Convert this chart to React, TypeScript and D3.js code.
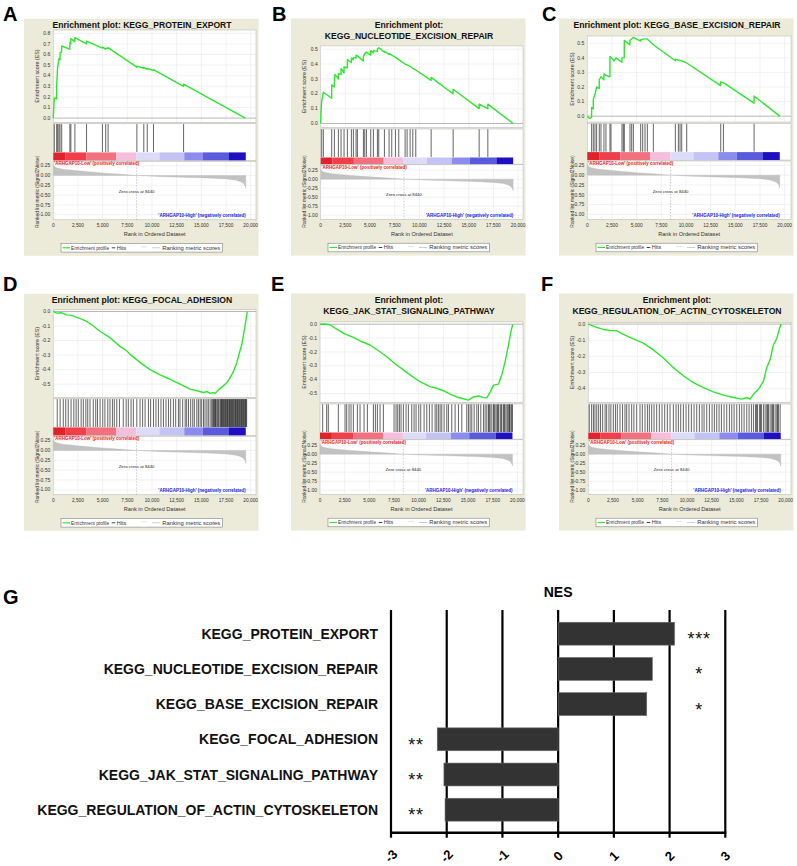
import React from 'react';
import * as d3 from 'd3';

type Pt = [number, number];

// ---------- shared GSEA data ----------
const rankTicks = [0, 2500, 5000, 7500, 10000, 12500, 15000, 17500, 20000];
const metricTicks = [0.25, 0, -0.25, -0.5, -0.75, -1];
const zeroCross = 8440;
const listEnd = 19500;
const metricCurve: Pt[] = [
  [0, 0.28], [100, 0.23], [400, 0.19], [1000, 0.16], [2500, 0.12], [5000, 0.065], [7000, 0.03],
  [8440, 0], [10500, -0.025], [13000, -0.045], [15500, -0.065], [17500, -0.09], [18500, -0.12],
  [19000, -0.16], [19300, -0.21], [19450, -0.27], [19500, -0.33],
];
const colorBands: [number, number, string][] = [
  [0, 1200, '#E0222C'], [1200, 3360, '#EE3F4A'], [3360, 6380, '#F2717F'], [6380, 8400, '#F5BEDC'],
  [8400, 10750, '#DCDCF8'], [10750, 13270, '#C4C4F4'], [13270, 15120, '#8C8CEE'],
  [15120, 17800, '#5A5ADC'], [17800, 19500, '#1E10C0'],
];

// ---------- panel A ----------
const titleA = ['Enrichment plot: KEGG_PROTEIN_EXPORT'];
const esTicksA = [0, 0.1, 0.2, 0.3, 0.4, 0.5, 0.6, 0.7, 0.8];
const esA: Pt[] = [
  [0, 0], [100, 0.19], [330, 0.18], [340, 0.3], [440, 0.49], [450, 0.48], [570, 0.56], [680, 0.55],
  [690, 0.62], [840, 0.62], [850, 0.68], [1670, 0.65], [1680, 0.71], [1770, 0.7], [1780, 0.75],
  [2180, 0.72], [2190, 0.76], [3360, 0.7], [3370, 0.725], [4970, 0.66], [4980, 0.67], [5300, 0.65],
  [5310, 0.66], [5540, 0.655], [5550, 0.665], [8460, 0.48], [8470, 0.49], [9160, 0.47], [9170, 0.478],
  [9510, 0.46], [9520, 0.468], [10140, 0.45], [10150, 0.458], [13190, 0.3], [13200, 0.32], [19450, 0],
];
const hitsA = [100, 340, 440, 570, 680, 850, 1680, 1780, 2190, 3370, 4980, 5310, 5550, 8470, 9170, 9520, 10150, 13200];

// ---------- panel B ----------
const titleB = ['Enrichment plot:', 'KEGG_NUCLEOTIDE_EXCISION_REPAIR'];
const esTicksB = [0, 0.1, 0.2, 0.3, 0.4, 0.5];
const esB: Pt[] = [
  [0, 0], [34, 0.08], [101, 0.15], [270, 0.21], [1110, 0.17], [1115, 0.26], [1380, 0.245], [1386, 0.29],
  [1450, 0.33], [1785, 0.3], [1791, 0.335], [2055, 0.33], [2062, 0.37], [2360, 0.34], [2366, 0.38],
  [2700, 0.375], [2704, 0.43], [3105, 0.41], [3110, 0.44], [3310, 0.43], [3312, 0.445], [3580, 0.44],
  [3583, 0.46], [3718, 0.455], [4320, 0.42], [4326, 0.45], [4462, 0.47], [4631, 0.48], [5065, 0.46],
  [5070, 0.49], [5335, 0.475], [5340, 0.49], [5740, 0.485], [5746, 0.5], [5881, 0.51], [6450, 0.48],
  [6456, 0.485], [6925, 0.465], [6929, 0.47], [7199, 0.46], [7571, 0.445], [7909, 0.43], [8551, 0.4],
  [8754, 0.395], [9058, 0.385], [9329, 0.37], [9633, 0.36], [11180, 0.29], [11188, 0.31], [13410, 0.2],
  [13419, 0.23], [16050, 0.1], [16055, 0.13], [16930, 0.1], [16934, 0.13], [19500, 0],
];
const hitsB = [101, 270, 1115, 1386, 1791, 2062, 2366, 2704, 3110, 3312, 3583, 3718, 4326, 4462, 4631, 5070,
  5340, 5746, 5881, 6456, 6929, 7199, 7571, 7909, 8551, 8754, 9058, 9329, 9633, 11188, 13419, 16055, 16934];

// ---------- panel C ----------
const titleC = ['Enrichment plot: KEGG_BASE_EXCISION_REPAIR'];
const esTicksC = [0, 0.1, 0.2, 0.3, 0.4, 0.5];
const esC: Pt[] = [
  [0, 0], [200, -0.015], [430, -0.01], [439, 0.06], [600, 0.05], [608, 0.115], [777, 0.15], [946, 0.2],
  [1210, 0.19], [1217, 0.25], [1386, 0.27], [1680, 0.25], [1690, 0.29], [1893, 0.28], [2290, 0.27],
  [2298, 0.41], [2600, 0.39], [2700, 0.38], [2900, 0.4], [3500, 0.37], [3515, 0.4], [3740, 0.4],
  [3752, 0.52], [4320, 0.49], [4326, 0.52], [4664, 0.54], [5400, 0.515], [5408, 0.525], [5847, 0.53],
  [6084, 0.53], [6692, 0.49], [8920, 0.38], [8923, 0.39], [9565, 0.38], [10072, 0.365], [13510, 0.21],
  [13520, 0.235], [13790, 0.23], [16890, 0.09], [16900, 0.138], [19500, 0],
];
const hitsC = [439, 608, 777, 946, 1217, 1386, 1690, 1893, 2298, 2400, 3515, 3650, 3752, 4326, 4495, 4664,
  5408, 5611, 5847, 6084, 6692, 8923, 9227, 9396, 9565, 10072, 13520, 13790, 16900];

// ---------- panel D ----------
const titleD = ['Enrichment plot: KEGG_FOCAL_ADHESION'];
const esTicksD = [0, -0.1, -0.2, -0.3, -0.4, -0.5];
const esD: Pt[] = [
  [0, 0], [340, -0.011], [845, -0.009], [1350, -0.023], [1860, -0.027], [2370, -0.041], [2870, -0.052],
  [3380, -0.068], [4060, -0.1], [4730, -0.136], [5750, -0.18], [6760, -0.24], [7440, -0.27],
  [7770, -0.295], [8790, -0.35], [9800, -0.4], [10820, -0.436], [11830, -0.466], [12840, -0.5],
  [13860, -0.534], [14870, -0.55], [15210, -0.558], [15550, -0.55], [15890, -0.563], [16220, -0.557],
  [16390, -0.563], [16730, -0.54], [17070, -0.52], [17580, -0.49], [17910, -0.455], [18250, -0.414],
  [18590, -0.352], [18860, -0.284], [19100, -0.227], [19270, -0.16], [19470, -0.08], [19650, 0],
];
const hitsD = [400, 690, 1010, 1260, 1510, 1800, 2080, 2310, 2530, 2820, 3040, 3300, 3490, 3720, 4050, 4300,
  4480, 4740, 5010, 5230, 5520, 5740, 5990, 6180, 6430, 6700, 7090, 7380, 7600, 7880, 8110, 8460, 8790,
  9050, 9300, 9640, 9860, 10150, 10400, 10650, 10910, 11160, 11420, 11670, 11890, 12170, 12400, 12680,
  12840, 13110, 13360, 13510, 13700, 13920, 14130, 14290, 14540, 14700, 14880, 15030, 15220, 15370,
  15560, 15710, 15890, 16050, 16150, 16230, 16320, 16390, 16450, 16500, 16620, 16700, 16770, 16890,
  16960, 17040, 17100, 17160, 17240, 17310, 17380, 17440, 17510, 17580, 17640, 17700, 17780, 17850,
  17910, 17970, 18050, 18120, 18180, 18240, 18320, 18390, 18460, 18520, 18590, 18660, 18720, 18790,
  18860, 18930, 19000, 19060, 19130, 19200, 19260, 19330, 19400, 19470, 19530, 19590];

// ---------- panel E ----------
const titleE = ['Enrichment plot:', 'KEGG_JAK_STAT_SIGNALING_PATHWAY'];
const esTicksE = [0, -0.1, -0.2, -0.3, -0.4, -0.5];
const esE: Pt[] = [
  [0, 0], [500, 0.001], [1000, -0.004], [1690, -0.035], [2500, -0.07], [3380, -0.095], [4200, -0.125],
  [5070, -0.15], [6000, -0.195], [6760, -0.235], [7600, -0.285], [8450, -0.33], [9300, -0.375],
  [10140, -0.415], [11154, -0.45], [11830, -0.462], [12506, -0.48], [13182, -0.505], [13858, -0.525],
  [14534, -0.538], [15041, -0.548], [15548, -0.525], [16055, -0.518], [16562, -0.53], [16900, -0.532],
  [17238, -0.49], [17576, -0.44], [18083, -0.432], [18421, -0.364], [18759, -0.27], [19097, -0.15],
  [19334, -0.055], [19536, 0],
];
const hitsE = [270, 676, 845, 1859, 2535, 2704, 2941, 3143, 3380, 3786, 4056, 4462, 4800, 5408, 5611, 5814,
  6084, 6422, 7504, 7706, 7875, 8044, 8213, 8450, 8720, 8957, 9295, 9532, 9734, 10005, 10208, 10546,
  10816, 11086, 11357, 11661, 11830, 11999, 12168, 12337, 12574, 12844, 13013, 13351, 13689, 14027,
  14365, 14872, 15041, 15210, 15379, 15616, 15886, 16055, 16292, 16562, 16731, 16900, 17069, 17150,
  17238, 17407, 17576, 17650, 17745, 17914, 18000, 18083, 18252, 18350, 18421, 18590, 18680, 18759,
  18928, 19029, 19131, 19200, 19266, 19401, 19503];

// ---------- panel F ----------
const titleF = ['Enrichment plot:', 'KEGG_REGULATION_OF_ACTIN_CYTOSKELETON'];
const esTicksF = [0, -0.1, -0.2, -0.3, -0.4];
const esF: Pt[] = [
  [0, 0], [845, -0.02], [1520, -0.033], [2200, -0.039], [2870, -0.041], [3550, -0.063], [4560, -0.092],
  [5580, -0.118], [6590, -0.16], [7610, -0.21], [8620, -0.27], [9630, -0.32], [10650, -0.363],
  [11660, -0.394], [12680, -0.42], [13690, -0.44], [14700, -0.455], [15550, -0.465], [16060, -0.455],
  [16390, -0.465], [16730, -0.435], [17240, -0.404], [17750, -0.353], [18080, -0.27], [18420, -0.22],
  [18760, -0.128], [19100, -0.088], [19370, -0.027], [19540, 0],
];
const hitsF = [101, 338, 520, 676, 860, 1048, 1240, 1453, 1700, 1859, 2096, 2290, 2535, 2750, 2941, 3211,
  3470, 3718, 3890, 4124, 4394, 4620, 4901, 5239, 5476, 5746, 5990, 6185, 6422, 6659, 6929, 7199, 7470,
  7740, 8011, 8281, 8619, 8889, 9126, 9363, 9633, 9903, 10174, 10444, 10715, 10985, 11255, 11526, 11729,
  11999, 12269, 12540, 12776, 13013, 13250, 13486, 13757, 14027, 14297, 14534, 14771, 15041, 15311,
  15548, 15785, 16055, 16292, 16528, 16731, 16934, 17050, 17137, 17339, 17450, 17542, 17745, 17914,
  18083, 18170, 18252, 18421, 18590, 18680, 18759, 18928, 19097, 19180, 19266, 19435];

// ---------- panel G (NES bar chart) ----------
const nesCategories = [
  'KEGG_PROTEIN_EXPORT', 'KEGG_NUCLEOTIDE_EXCISION_REPAIR', 'KEGG_BASE_EXCISION_REPAIR',
  'KEGG_FOCAL_ADHESION', 'KEGG_JAK_STAT_SIGNALING_PATHWAY', 'KEGG_REGULATION_OF_ACTIN_CYTOSKELETON',
];
const nesValues = [2.09, 1.69, 1.59, -2.17, -2.05, -2.03];
const nesStars = ['***', '*', '*', '**', '**', '**'];
const nesTicks = [-3, -2, -1, 0, 1, 2, 3];

// ---------- layout ----------
const FONT = "Arial, 'Liberation Sans', Helvetica, sans-serif";
const oneLine = { titleY: [9.3], esBottom: 103.5, hitsTop: 105, hitsBottom: 133.2, barTop: 133.6, barBottom: 141.5, rankTop: 142.5, rankBottom: 201, rankZero: 156.7, rankUnit: 39.2 };
const twoLine = { titleY: [9.3, 20.3], esBottom: 109, hitsTop: 110.5, hitsBottom: 138.5, barTop: 139, barBottom: 145.6, rankTop: 146.3, rankBottom: 201, rankZero: 160.7, rankUnit: 36 };

const panels = [
  { letter: 'A', lx: 3, ly: 20.7, px: 24, py: 18.8, title: titleA, es: esA, hits: hitsA, esTicks: esTicksA, esDomain: [-0.04, 0.831], esTop: 11.2, L: oneLine, left: 29.3 },
  { letter: 'B', lx: 272, ly: 20.5, px: 291, py: 18.5, title: titleB, es: esB, hits: hitsB, esTicks: esTicksB, esDomain: [-0.027, 0.522], esTop: 27.4, L: twoLine, left: 29.7 },
  { letter: 'C', lx: 542, ly: 20.5, px: 559, py: 18.5, title: titleC, es: esC, hits: hitsC, esTicks: esTicksC, esDomain: [-0.04, 0.55], esTop: 17.5, L: oneLine, left: 28.3 },
  { letter: 'D', lx: 3, ly: 291, px: 24, py: 293.8, title: titleD, es: esD, hits: hitsD, esTicks: esTicksD, esDomain: [-0.59, 0.0116], esTop: 16, L: oneLine, left: 29.3 },
  { letter: 'E', lx: 271, ly: 291, px: 291, py: 293.5, title: titleE, es: esE, hits: hitsE, esTicks: esTicksE, esDomain: [-0.565, 0.0166], esTop: 28.4, L: twoLine, left: 29 },
  { letter: 'F', lx: 541, ly: 291, px: 559, py: 293.5, title: titleF, es: esF, hits: hitsF, esTicks: esTicksF, esDomain: [-0.486, 0.01], esTop: 29, L: twoLine, left: 29.3 },
];

const PANEL_W = 234.5;
const PANEL_H = 237;
const PLOT_RIGHT = 232;

function GseaPanel({ p }: { p: any }) {
  const L = p.L;
  const x = d3.scaleLinear().domain([0, 20000]).range([p.left, p.left + 197.4]);
  const yEs = d3.scaleLinear().domain(p.esDomain).range([L.esBottom, p.esTop]);
  const yRank = d3.scaleLinear().domain([0, -1]).range([L.rankZero, L.rankZero + L.rankUnit]);
  const esLine = d3.line<Pt>().x((d) => x(d[0])).y((d) => yEs(d[1]));
  const metricArea = d3.area<Pt>().x((d) => x(d[0])).y0(yRank(0)).y1((d) => yRank(d[1]));
  const plotW = PLOT_RIGHT - p.left;
  const gridColor = '#e4e4e4';
  return (
    <g>
      <text x={p.lx} y={p.ly} fontSize={20} fontWeight="bold" fontFamily={FONT} fill="#000">{p.letter}</text>
      <g transform={`translate(${p.px},${p.py})`} fontFamily={FONT}>
        <rect x={0} y={0} width={PANEL_W} height={PANEL_H} fill="#ECEAD8" />
        {p.title.map((t: string, i: number) => (
          <text key={i} x={118} y={L.titleY[i]} fontSize={8.6} fontWeight="bold" textAnchor="middle" fill="#111">{t}</text>
        ))}
        {/* ES plot */}
        <rect x={p.left} y={p.esTop} width={plotW} height={L.esBottom - p.esTop} fill="#fff" stroke="#b0b0b0" strokeWidth={0.5} />
        {rankTicks.map((t) => (
          <line key={'gx' + t} x1={x(t)} x2={x(t)} y1={p.esTop} y2={L.esBottom} stroke={gridColor} strokeWidth={0.5} />
        ))}
        {p.esTicks.map((t: number) => (
          <g key={'gy' + t}>
            <line x1={p.left} x2={PLOT_RIGHT} y1={yEs(t)} y2={yEs(t)} stroke={t === 0 ? '#9a9a9a' : gridColor} strokeWidth={t === 0 ? 0.7 : 0.5} />
            <text x={p.left - 3} y={yEs(t) + 1.7} fontSize={5} textAnchor="end" fill="#333">{t.toFixed(1)}</text>
          </g>
        ))}
        <path d={esLine(p.es) || ''} fill="none" stroke="#2EE62E" strokeWidth={1.4} strokeLinejoin="round" />
        <text transform={`translate(14.5,${(p.esTop + L.esBottom) / 2}) rotate(-90)`} fontSize={5.3} textAnchor="middle" fill="#333">Enrichment score (ES)</text>
        {/* hits + colour bar */}
        <rect x={p.left} y={L.hitsTop} width={plotW} height={L.barBottom - L.hitsTop} fill="#fff" stroke="#b0b0b0" strokeWidth={0.5} />
        {p.hits.map((h: number, i: number) => (
          <line key={'h' + i} x1={x(h)} x2={x(h)} y1={L.hitsTop + 0.3} y2={L.hitsBottom} stroke="#111" strokeWidth={0.65} />
        ))}
        {colorBands.map(([a, b, c], i) => (
          <rect key={'cb' + i} x={x(a)} y={L.barTop} width={x(b) - x(a)} height={L.barBottom - L.barTop} fill={c} />
        ))}
        {/* ranked list metric */}
        <rect x={p.left} y={L.rankTop} width={plotW} height={L.rankBottom - L.rankTop} fill="#fff" stroke="#b0b0b0" strokeWidth={0.5} />
        {rankTicks.map((t) => (
          <line key={'rx' + t} x1={x(t)} x2={x(t)} y1={L.rankTop} y2={L.rankBottom} stroke={gridColor} strokeWidth={0.5} />
        ))}
        {metricTicks.map((t) => (
          <g key={'ry' + t}>
            <line x1={p.left} x2={PLOT_RIGHT} y1={yRank(t)} y2={yRank(t)} stroke={gridColor} strokeWidth={0.5} />
            <text x={p.left - 3} y={yRank(t) + 1.7} fontSize={5} textAnchor="end" fill="#333">{t.toFixed(2)}</text>
          </g>
        ))}
        <path d={metricArea(metricCurve) || ''} fill="#C2C2C2" stroke="#B5B5B5" strokeWidth={0.3} />
        <line x1={x(zeroCross)} x2={x(zeroCross)} y1={L.rankTop} y2={L.rankBottom} stroke="#999" strokeWidth={0.5} strokeDasharray="1.5,1.5" />
        <text x={x(zeroCross)} y={yRank(-0.42) + 1.5} fontSize={4.3} textAnchor="middle" fill="#222">{'Zero cross at ' + zeroCross}</text>
        <text x={p.left + 0.8} y={L.rankTop + 4.2} fontSize={4.5} fontWeight="bold" fill="#F01818">'ARHGAP10-Low' (positively correlated)</text>
        <text x={x(listEnd)} y={L.rankBottom - 2.7} fontSize={4.5} fontWeight="bold" textAnchor="end" fill="#2020E8">'ARHGAP10-High' (negatively correlated)</text>
        <text transform={`translate(14.5,173) rotate(-90)`} fontSize={4.9} textAnchor="middle" fill="#333">Ranked list metric (Signal2Noise)</text>
        {rankTicks.map((t) => (
          <text key={'xt' + t} x={x(t)} y={208.5} fontSize={4.8} textAnchor="middle" fill="#333">{d3.format(',')(t)}</text>
        ))}
        <text x={(p.left + PLOT_RIGHT) / 2} y={217.4} fontSize={5.6} textAnchor="middle" fill="#333">Rank in Ordered Dataset</text>
        {/* legend */}
        <rect x={37} y={224.7} width={161.3} height={8.6} fill="#fff" stroke="#808080" strokeWidth={0.6} />
        <line x1={38.5} x2={46} y1={229} y2={229} stroke="#2EE62E" strokeWidth={1.2} />
        <text x={47} y={230.8} fontSize={5} textLength={38} lengthAdjust="spacingAndGlyphs" fill="#333">Enrichment profile</text>
        <line x1={87.7} x2={91.3} y1={229} y2={229} stroke="#111" strokeWidth={0.8} />
        <text x={92.8} y={230.8} fontSize={5} textLength={9.5} lengthAdjust="spacingAndGlyphs" fill="#333">Hits</text>
        <line x1={117} x2={123} y1={228} y2={228} stroke="#e6e6e6" strokeWidth={1.2} />
        <line x1={128} x2={136} y1={229} y2={229} stroke="#C8C8C8" strokeWidth={0.9} />
        <text x={138.3} y={230.8} fontSize={5} textLength={58} lengthAdjust="spacingAndGlyphs" fill="#333">Ranking metric scores</text>
      </g>
    </g>
  );
}

function NesChart() {
  const nx = d3.scaleLinear().domain([-3, 3]).range([391, 725.3]);
  const ny = d3.scaleBand<string>().domain(nesCategories).range([616.1, 827.3]).paddingInner(0.35).paddingOuter(0.175);
  const axisY = 832.7;
  return (
    <g fontFamily={FONT}>
      <text x={3} y={604} fontSize={20} fontWeight="bold" fill="#000">G</text>
      <text x={nx(0)} y={597} fontSize={14} fontWeight="bold" textAnchor="middle" fill="#000">NES</text>
      {nesTicks.map((t) => (
        <line key={'g' + t} x1={nx(t)} x2={nx(t)} y1={610} y2={axisY + 5} stroke="#000" strokeWidth={2.2} />
      ))}
      <line x1={nx(-3) - 1} x2={nx(3) + 1} y1={axisY} y2={axisY} stroke="#000" strokeWidth={2.4} />
      {nesCategories.map((c, i) => {
        const v = nesValues[i];
        const y0 = ny(c) as number;
        const bw = ny.bandwidth();
        const cy = y0 + bw / 2;
        return (
          <g key={c}>
            <rect x={nx(Math.min(0, v))} y={y0} width={Math.abs(nx(v) - nx(0))} height={bw} fill="#333333" stroke="#6a6a6a" strokeWidth={0.6} />
            <text x={378} y={cy + 5} fontSize={14} fontWeight="bold" textAnchor="end" fill="#111">{c}</text>
            <text x={v > 0 ? nx(2.53) : nx(-2.55)} y={cy + 11.5} fontSize={18} letterSpacing={0.8} textAnchor="middle" fill="#111">{nesStars[i]}</text>
          </g>
        );
      })}
      {nesTicks.map((t) => (
        <text key={'l' + t} transform={`translate(${nx(t)},${856}) rotate(-45)`} fontSize={13} fontWeight="bold" textAnchor="middle" dominantBaseline="central" fill="#000">{String(t)}</text>
      ))}
    </g>
  );
}

export default function App() {
  return (
    <div>
      <style>{`body{margin:0;background:#fff}`}</style>
      <svg width={797} height={866} viewBox="0 0 797 866" style={{ display: 'block' }}>
        <rect x={0} y={0} width={797} height={866} fill="#fff" />
        {panels.map((p) => (
          <GseaPanel key={p.letter} p={p} />
        ))}
        <NesChart />
      </svg>
    </div>
  );
}
